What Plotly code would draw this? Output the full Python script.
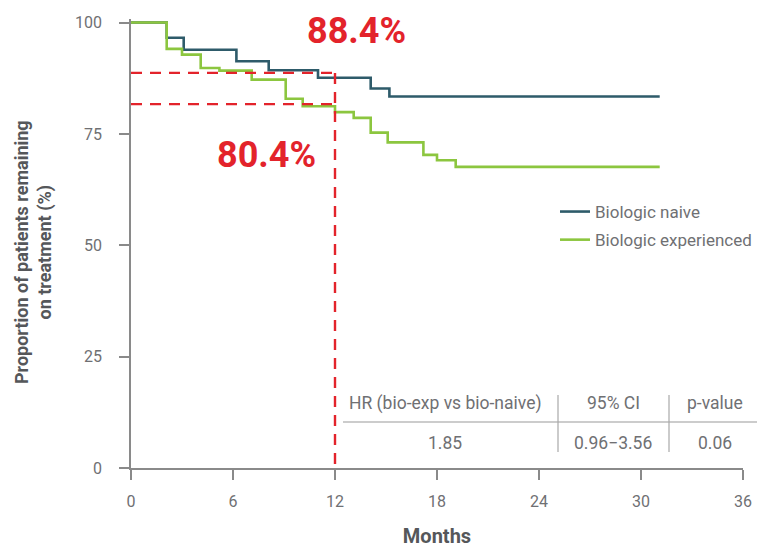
import plotly.graph_objects as go

# ---- data ----
naive_t = [0, 2.1, 3.1, 6.2, 8.1, 11.0, 14.1, 15.2, 31.1]
naive_s = [100, 96.6, 93.9, 91.3, 89.3, 87.6, 85.2, 83.4, 83.4]
exp_t = [0, 2.1, 3.0, 4.1, 5.2, 7.1, 9.1, 10.1, 12.0, 13.1, 14.1, 15.1, 17.2, 18.0, 19.1, 31.1]
exp_s = [100, 94.1, 92.8, 89.8, 89.2, 87.2, 82.9, 81.2, 79.9, 78.6, 75.3, 73.1, 70.3, 69.1, 67.6, 67.6]
series_names = ["Biologic naive", "Biologic experienced"]

landmark_month = 12
landmark_levels = [88.7, 81.7]          # where the dashed guides sit in the picture
landmark_labels = ["88.4%", "80.4%"]

x_ticks = [0, 6, 12, 18, 24, 30, 36]
y_ticks = [0, 25, 50, 75, 100]

table_header = ["HR (bio-exp vs bio-naive)", "95% CI", "p-value"]
table_values = ["1.85", "0.96\u22123.56", "0.06"]

# ---- layout helpers (pixel -> paper) ----
W, H = 757, 550
L, R, T, B = 131, 14, 19, 82
PW, PH = W - L - R, H - T - B
def px(x):
    return (x - L) / PW
def py(y):
    return (H - B - y) / PH

NAIVE = "#2e5b6a"
GREEN = "#8cc63f"
RED = "#e3232b"
TICK = "#6f7073"
TITLE = "#55575a"
FONT = "Roboto, 'Noto Sans', sans-serif"

fig = go.Figure()
fig.add_trace(go.Scatter(x=naive_t, y=naive_s, mode="lines", line=dict(color=NAIVE, width=2.6, shape="hv"),
                         name=series_names[0], legendgroup="a"))
fig.add_trace(go.Scatter(x=exp_t, y=exp_s, mode="lines", line=dict(color=GREEN, width=2.6, shape="hv"),
                         name=series_names[1], legendgroup="b"))

dash = "11px,8px"
for lvl in landmark_levels:
    fig.add_trace(go.Scatter(x=[0, landmark_month], y=[lvl, lvl], mode="lines",
                             line=dict(color=RED, width=2.4, dash=dash), showlegend=False, hoverinfo="skip"))
fig.add_trace(go.Scatter(x=[landmark_month, landmark_month], y=[landmark_levels[0], 0], mode="lines",
                         line=dict(color=RED, width=2.4, dash=dash), showlegend=False, hoverinfo="skip"))

def ann(x, y, text, size, color, **kw):
    d = dict(x=px(x), y=py(y), xref="paper", yref="paper", text=text, showarrow=False,
             xanchor="center", yanchor="middle", font=dict(family=FONT, size=size, color=color))
    d.update(kw)
    return d

annotations = [
    ann(356, 31, f"<b>{landmark_labels[0]}</b>", 36, RED),
    ann(266, 155, f"<b>{landmark_labels[1]}</b>", 36, RED),
    ann(33, 252, "<b>Proportion of patients remaining<br>on treatment (%)</b>", 18, TITLE, textangle=-90),
]
col_x = [445, 613, 715]
for cx, h, v in zip(col_x, table_header, table_values):
    annotations.append(ann(cx, 403, h, 17.5, TICK))
    annotations.append(ann(cx, 443, v, 17.5, TICK))

shapes = [
    dict(type="line", xref="paper", yref="paper", x0=px(343), x1=px(757), y0=py(422), y1=py(422),
         line=dict(color="#9a9a9a", width=1.2)),
    dict(type="line", xref="paper", yref="paper", x0=px(558), x1=px(558), y0=py(395), y1=py(452),
         line=dict(color="#a8a8a8", width=1.2)),
    dict(type="line", xref="paper", yref="paper", x0=px(669), x1=px(669), y0=py(395), y1=py(452),
         line=dict(color="#a8a8a8", width=1.2)),
]

fig.update_layout(
    width=W, height=H, margin=dict(l=L, r=R, t=T, b=B, autoexpand=False),
    paper_bgcolor="white", plot_bgcolor="white",
    font=dict(family=FONT, size=16, color=TICK),
    showlegend=True,
    legend=dict(x=px(555), y=py(194), xanchor="left", yanchor="top", bgcolor="rgba(0,0,0,0)",
                font=dict(family=FONT, size=17, color=TICK), traceorder="grouped", tracegroupgap=3,
                itemwidth=30),
    annotations=annotations, shapes=shapes,
)
fig.update_xaxes(range=[0, 36], tickvals=x_ticks, showgrid=False, zeroline=False,
                 showline=True, linecolor="#8a8a8a", linewidth=1.5, ticks="outside", ticklen=10,
                 tickwidth=1.5, tickcolor="#8a8a8a", tickfont=dict(family=FONT, size=16, color=TICK),
                 ticklabelstandoff=8,
                 title=dict(text="<b>Months</b>", font=dict(family=FONT, size=20, color=TITLE), standoff=19))
fig.update_yaxes(range=[0, 100.8], tickvals=y_ticks, showgrid=False, zeroline=False,
                 showline=True, linecolor="#8a8a8a", linewidth=1.5, ticks="outside", ticklen=10,
                 tickwidth=1.5, tickcolor="#8a8a8a", tickfont=dict(family=FONT, size=16, color=TICK),
                 ticklabelstandoff=14)

fig.write_html("out.html", config={"displayModeBar": False},
               post_script="document.body.style.margin='0';document.body.style.overflow='hidden';")
